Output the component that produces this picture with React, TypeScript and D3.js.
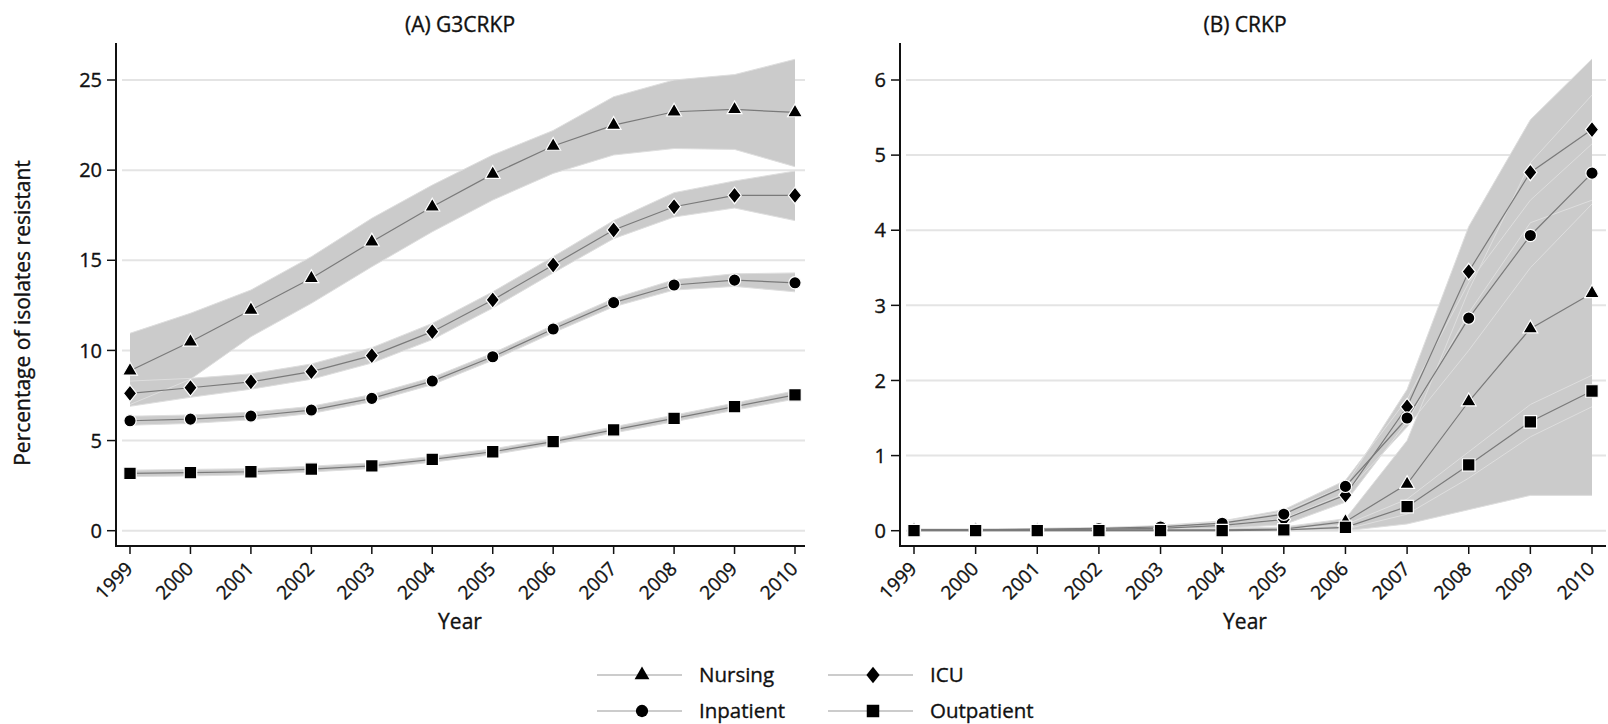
import React from 'react';
import * as d3 from 'd3';

const W = 1608;
const H = 724;
const FONT = "'Open Sans', 'DejaVu Sans', sans-serif";

const years = [1999, 2000, 2001, 2002, 2003, 2004, 2005, 2006, 2007, 2008, 2009, 2010];
const seriesNames = ['Nursing', 'ICU', 'Inpatient', 'Outpatient'];
const shapes = ['triangle', 'diamond', 'circle', 'square'];

// (A) G3CRKP
const ticksA = [0, 5, 10, 15, 20, 25];
const nursingA = [8.87, 10.48, 12.24, 14.0, 16.03, 17.97, 19.78, 21.34, 22.5, 23.24, 23.37, 23.2];
const nursingALo = [7.0, 8.4, 10.76, 12.61, 14.64, 16.58, 18.34, 19.82, 20.84, 21.2, 21.15, 20.19];
const nursingAHi = [10.95, 12.06, 13.35, 15.2, 17.33, 19.17, 20.84, 22.2, 24.07, 25.0, 25.3, 26.15];
const icuA = [7.62, 7.93, 8.26, 8.82, 9.71, 11.04, 12.8, 14.74, 16.68, 17.97, 18.6, 18.6];
const icuALo = [6.9, 7.4, 7.85, 8.4, 9.3, 10.6, 12.35, 14.3, 16.2, 17.4, 17.9, 17.2];
const icuAHi = [8.3, 8.45, 8.7, 9.25, 10.15, 11.5, 13.25, 15.2, 17.2, 18.75, 19.4, 19.95];
const inpA = [6.1, 6.19, 6.36, 6.69, 7.34, 8.3, 9.65, 11.19, 12.65, 13.63, 13.9, 13.75];
const inpALo = [5.85, 5.95, 6.15, 6.5, 7.15, 8.1, 9.45, 10.98, 12.42, 13.35, 13.55, 13.25];
const inpAHi = [6.35, 6.42, 6.57, 6.9, 7.55, 8.5, 9.85, 11.4, 12.88, 13.92, 14.25, 14.3];
const outA = [3.18, 3.22, 3.27, 3.42, 3.6, 3.96, 4.38, 4.94, 5.59, 6.23, 6.88, 7.53];
const outALo = [3.0, 3.04, 3.1, 3.26, 3.45, 3.8, 4.22, 4.78, 5.42, 6.05, 6.68, 7.3];
const outAHi = [3.36, 3.4, 3.44, 3.58, 3.76, 4.12, 4.54, 5.1, 5.76, 6.41, 7.08, 7.76];

// (B) CRKP
const ticksB = [0, 1, 2, 3, 4, 5, 6];
const nursingB = [0.01, 0.01, 0.01, 0.01, 0.01, 0.01, 0.02, 0.12, 0.62, 1.72, 2.69, 3.16];
const nursingBLo = [0, 0, 0, 0, 0, 0, 0, 0, 0.09, 0.28, 0.47, 0.47];
const nursingBHi = [0.02, 0.02, 0.02, 0.02, 0.03, 0.03, 0.05, 0.16, 1.2, 3.2, 4.9, 5.8];
const icuB = [0.01, 0.01, 0.01, 0.02, 0.03, 0.07, 0.15, 0.475, 1.65, 3.45, 4.77, 5.34];
const icuBLo = [0, 0, 0, 0, 0.01, 0.03, 0.08, 0.38, 1.45, 2.9, 4.1, 4.4];
const icuBHi = [0.02, 0.02, 0.03, 0.04, 0.06, 0.12, 0.25, 0.6, 1.88, 4.05, 5.47, 6.28];
const inpB = [0.01, 0.01, 0.02, 0.03, 0.05, 0.1, 0.22, 0.59, 1.5, 2.83, 3.93, 4.76];
const inpBLo = [0, 0, 0.01, 0.02, 0.03, 0.07, 0.16, 0.5, 1.38, 2.4, 3.5, 4.35];
const inpBHi = [0.02, 0.02, 0.03, 0.04, 0.07, 0.13, 0.28, 0.67, 1.75, 3.3, 4.4, 5.15];
const outB = [0, 0, 0, 0, 0, 0, 0.01, 0.045, 0.32, 0.875, 1.45, 1.86];
const outBLo = [0, 0, 0, 0, 0, 0, 0, 0.02, 0.22, 0.7, 1.25, 1.65];
const outBHi = [0, 0, 0, 0, 0, 0, 0.02, 0.08, 0.42, 1.05, 1.68, 2.07];

const symbolDiamondTall = {
  draw(ctx: any, size: number) {
    const h = Math.sqrt(size / 1.6);
    const w = h * 0.8;
    ctx.moveTo(0, -h);
    ctx.lineTo(w, 0);
    ctx.lineTo(0, h);
    ctx.lineTo(-w, 0);
    ctx.closePath();
  }
};

function markerPath(shape: string) {
  if (shape === 'triangle') return d3.symbol(d3.symbolTriangle, 95)();
  if (shape === 'diamond') return d3.symbol(symbolDiamondTall as any, 110)();
  if (shape === 'circle') return d3.symbol(d3.symbolCircle, 118)();
  return d3.symbol(d3.symbolSquare, 156)();
}

type Series = { name: string; shape: string; mid: number[]; lo: number[]; hi: number[] };

const textStyle = { fontFamily: FONT, fill: '#111', stroke: '#111', strokeWidth: 0.35 };

function Panel(props: {
  title: string; x0: number; x1: number; axisX: number; axisEnd: number;
  yMax: number; ticks: number[]; series: Series[]; centerX: number;
}) {
  const { title, x0, x1, axisX, axisEnd, yMax, ticks, series, centerX } = props;
  const x = d3.scaleLinear().domain([1999, 2010]).range([x0, x1]);
  const y = d3.scaleLinear().domain([0, yMax]).range([530.7, 80]);
  const area = d3.area<number>().x((_, i) => x(years[i]));
  const line = d3.line<number>().x((_, i) => x(years[i])).y(d => y(d));
  const axisY = 546;

  return (
    <g>
      <text x={centerX} y={32} textAnchor="middle" fontSize={21} style={textStyle}>{title}</text>
      {ticks.map(t => (
        <g key={'g' + t}>
          <line x1={axisX + 6} x2={axisEnd} y1={y(t)} y2={y(t)} stroke="#e4e4e4" strokeWidth={2} />
          <line x1={axisX - 9} x2={axisX} y1={y(t)} y2={y(t)} stroke="#111" strokeWidth={1.5} />
          <text x={axisX - 14} y={y(t)} dy="0.36em" textAnchor="end" fontSize={20} style={textStyle}>{t}</text>
        </g>
      ))}
      {series.map(s => (
        <path key={'b' + s.name}
          d={area.y0((_, i) => y(s.lo[i])).y1((_, i) => y(s.hi[i]))(s.mid) || ''}
          fill="#cbcbcb" stroke="none" />
      ))}
      {series.map(s => (
        <g key={'e' + s.name}>
          <path d={line(s.lo) || ''} fill="none" stroke="#dedede" strokeWidth={1} />
          <path d={line(s.hi) || ''} fill="none" stroke="#dedede" strokeWidth={1} />
        </g>
      ))}
      {series.map(s => (
        <path key={'l' + s.name} d={line(s.mid) || ''} fill="none" stroke="#7a7a7a" strokeWidth={1.2} />
      ))}
      {series.map(s => (
        <g key={'m' + s.name}>
          {s.mid.map((v, i) => (
            <path key={i} d={markerPath(s.shape) || ''} transform={`translate(${x(years[i])},${y(v)})`}
              fill="#000" stroke="#fff" strokeWidth={1.2} />
          ))}
        </g>
      ))}
      <line x1={axisX} x2={axisX} y1={43} y2={axisY + 1} stroke="#111" strokeWidth={2} />
      <line x1={axisX - 1} x2={axisEnd} y1={axisY} y2={axisY} stroke="#111" strokeWidth={2} />
      {years.map(yr => (
        <g key={'x' + yr}>
          <line x1={x(yr)} x2={x(yr)} y1={axisY} y2={axisY + 8} stroke="#111" strokeWidth={1.5} />
          <text transform={`translate(${x(yr) + 4},${570}) rotate(-45)`} textAnchor="end"
            fontSize={19} style={textStyle}>{yr}</text>
        </g>
      ))}
      <text x={centerX} y={629} textAnchor="middle" fontSize={21} style={textStyle}>Year</text>
    </g>
  );
}

function Legend() {
  const cols = [597, 828];
  const rows = [675, 711];
  return (
    <g>
      {seriesNames.map((name, i) => {
        const cx = cols[i % 2];
        const cy = rows[Math.floor(i / 2)];
        return (
          <g key={name}>
            <line x1={cx} x2={cx + 85} y1={cy} y2={cy} stroke="#9a9a9a" strokeWidth={1.2} />
            <path d={markerPath(shapes[i]) || ''} transform={`translate(${cx + 45},${cy})`} fill="#000" />
            <text x={cx + 102} y={cy} dy="0.36em" fontSize={20.5} style={textStyle}>{name}</text>
          </g>
        );
      })}
    </g>
  );
}

export default function App() {
  const seriesA: Series[] = [
    { name: 'Nursing', shape: 'triangle', mid: nursingA, lo: nursingALo, hi: nursingAHi },
    { name: 'ICU', shape: 'diamond', mid: icuA, lo: icuALo, hi: icuAHi },
    { name: 'Inpatient', shape: 'circle', mid: inpA, lo: inpALo, hi: inpAHi },
    { name: 'Outpatient', shape: 'square', mid: outA, lo: outALo, hi: outAHi },
  ];
  const seriesB: Series[] = [
    { name: 'Nursing', shape: 'triangle', mid: nursingB, lo: nursingBLo, hi: nursingBHi },
    { name: 'ICU', shape: 'diamond', mid: icuB, lo: icuBLo, hi: icuBHi },
    { name: 'Inpatient', shape: 'circle', mid: inpB, lo: inpBLo, hi: inpBHi },
    { name: 'Outpatient', shape: 'square', mid: outB, lo: outBLo, hi: outBHi },
  ];
  return (
    <svg width={W} height={H} style={{ position: 'absolute', left: 0, top: 0, background: '#fff' }}>
      <rect width={W} height={H} fill="#fff" />
      <text transform="translate(30,313) rotate(-90)" textAnchor="middle" fontSize={21} style={textStyle}>
        Percentage of isolates resistant
      </text>
      <Panel title="(A)  G3CRKP" x0={130} x1={795} axisX={116} axisEnd={805} yMax={25}
        ticks={ticksA} series={seriesA} centerX={460} />
      <Panel title="(B)  CRKP" x0={914} x1={1592} axisX={900} axisEnd={1606} yMax={6}
        ticks={ticksB} series={seriesB} centerX={1245} />
      <Legend />
    </svg>
  );
}
